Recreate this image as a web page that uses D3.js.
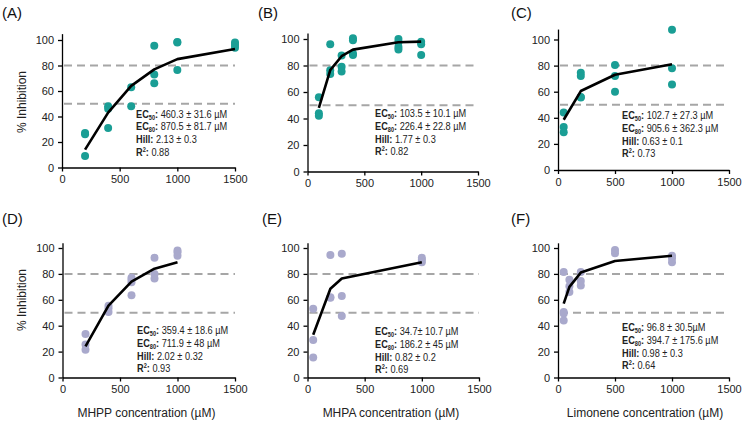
<!DOCTYPE html>
<html>
<head>
<meta charset="utf-8">
<script src="https://cdn.jsdelivr.net/npm/d3@7"></script>
<style>
  body { margin: 0; background: #fff; }
  svg { display: block; font-family: "Liberation Sans", Arial, sans-serif; }
  .tick text { font-size: 11px; fill: #222; }
  .stats { font-family: "Liberation Sans", Arial, sans-serif; font-size: 11.5px; fill: #222; }
</style>
</head>
<body>
<div id="chart"></div>
<script>
// panel labels and axis titles
const panelNames = ["(A)", "(B)", "(C)", "(D)", "(E)", "(F)"];
const xTitles = ["MHPP concentration (µM)", "MHPA concentration (µM)", "Limonene concentration (µM)"];
const xTicks = [0, 500, 1000, 1500];
const yTicks = [0, 20, 40, 60, 80, 100];
const guideLines = [50, 80];

// measured points (dose, % inhibition)
const aDose = [200, 200, 200, 400, 400, 400, 600, 600, 800, 800, 800, 1000, 1000, 1000, 1500, 1500, 1500];
const aInhib = [27, 26, 9, 48, 46, 31, 63, 48, 95.5, 73, 66, 98.5, 98, 76.5, 98, 96, 94];
const bDose = [100, 100, 100, 200, 200, 200, 300, 300, 300, 400, 400, 400, 400, 800, 800, 800, 800, 1000, 1000, 1000];
const bInhib = [56, 44, 42, 96, 76.5, 73.5, 87.5, 79, 75.5, 100.5, 99, 88, 89, 100, 97.5, 94, 92, 98, 96, 88];
const cDose = [50, 50, 50, 200, 200, 200, 200, 500, 500, 500, 1000, 1000, 1000];
const cInhib = [44, 33, 29, 74.5, 72, 56, 55.5, 80.5, 72, 60, 107.5, 78, 65.5];
const dDose = [200, 200, 200, 400, 400, 400, 600, 600, 600, 600, 800, 800, 800, 1000, 1000, 1000];
const dInhib = [33.5, 25.5, 21.5, 55.5, 53.5, 50.5, 77, 75.5, 73.5, 63.5, 92.5, 80, 76.5, 98, 96.5, 94];
const eDose = [50, 50, 50, 200, 200, 200, 300, 300, 300, 1000, 1000, 1000];
const eInhib = [53, 29, 15.5, 94.5, 62, 61.5, 95.5, 63, 47.5, 92.5, 91, 89];
const fDose = [50, 50, 50, 50, 100, 100, 100, 200, 200, 200, 500, 500, 1000, 1000, 1000];
const fInhib = [81.5, 50.5, 49.5, 44, 75.5, 70.5, 66, 81.5, 74.5, 71, 98.5, 96, 94, 92, 89];

// fitted curve values read at each tested dose
const aFitDose = [200, 400, 600, 800, 1000, 1500];
const aFit = [14, 43, 64, 77, 85, 93];
const bFitDose = [100, 200, 300, 400, 800, 1000];
const bFit = [48, 76.5, 87, 92, 97.5, 98];
const cFitDose = [50, 200, 500, 1000];
const cFit = [38.5, 60.5, 73, 81];
const dFitDose = [200, 400, 600, 800, 1000];
const dFit = [24, 55.5, 74, 84, 89];
const eFitDose = [50, 200, 300, 1000];
const eFit = [33, 68.5, 76.5, 89];
const fFitDose = [50, 100, 200, 500, 1000];
const fFit = [57, 70, 81, 90, 94];

// fit statistics
const ec50Text = ["460.3 ± 31.6 µM", "103.5 ± 10.1 µM", "102.7 ± 27.3 µM", "359.4 ± 18.6 µM", "34.7± 10.7 µM", "96.8 ± 30.5µM"];
const ec80Text = ["870.5 ± 81.7 µM", "226.4 ± 22.8 µM", "905.6 ± 362.3 µM", "711.9 ± 48 µM", "186.2 ± 45 µM", "394.7 ± 175.6 µM"];
const hillText = ["2.13 ± 0.3", "1.77 ± 0.3", "0.63 ± 0.1", "2.02 ± 0.32", "0.82 ± 0.2", "0.98 ± 0.3"];
const r2Text = ["0.88", "0.82", "0.73", "0.93", "0.69", "0.64"];

const tealColor = "#1a9e95";
const lilacColor = "#a9a9cc";

// pixel layout of each panel (plot box and annotation anchor)
const panels = [
  { x0: 62, x1: 235, y0: 167.5, y100: 40, yMax: 105, tx: 136, ty: 117.5, lx: 2, ly: 18, color: tealColor },
  { x0: 307.5, x1: 478, y0: 171.5, y100: 39, yMax: 104.5, tx: 375, ty: 117, lx: 258, ly: 18, color: tealColor },
  { x0: 558, x1: 729, y0: 170, y100: 39.5, yMax: 108, tx: 622, ty: 119, lx: 511, ly: 18, color: tealColor },
  { x0: 62.5, x1: 235, y0: 377.5, y100: 248, yMax: 104, tx: 137, ty: 334, lx: 2, ly: 224, color: lilacColor },
  { x0: 307.5, x1: 479, y0: 377.5, y100: 248, yMax: 104, tx: 375, ty: 335, lx: 262, ly: 224, color: lilacColor },
  { x0: 558, x1: 729, y0: 377.5, y100: 248, yMax: 104, tx: 622, ty: 331, lx: 511, ly: 224, color: lilacColor }
];
const pointSets = [[aDose, aInhib], [bDose, bInhib], [cDose, cInhib], [dDose, dInhib], [eDose, eInhib], [fDose, fInhib]];
const fitSets = [[aFitDose, aFit], [bFitDose, bFit], [cFitDose, cFit], [dFitDose, dFit], [eFitDose, eFit], [fFitDose, fFit]];

const svg = d3.select("#chart").append("svg")
  .attr("width", 742)
  .attr("height", 422);

panels.forEach((p, i) => {
  const g = svg.append("g");
  const yTop = p.y0 - (p.y0 - p.y100) * p.yMax / 100;

  const x = d3.scaleLinear().domain([0, 1500]).range([p.x0, p.x1]);
  const y = d3.scaleLinear().domain([0, p.yMax]).range([p.y0, yTop]);

  // 50% and 80% guide lines
  g.selectAll(".guide")
    .data(guideLines)
    .enter()
    .append("line")
    .attr("x1", x(0) + 2)
    .attr("x2", x(1500))
    .attr("y1", d => y(d))
    .attr("y2", d => y(d))
    .attr("stroke", "#a6a6a6")
    .attr("stroke-width", 2)
    .attr("stroke-dasharray", "8,5");

  // Axes
  const xAxis = g.append("g")
    .attr("transform", `translate(0,${p.y0})`)
    .call(d3.axisBottom(x).tickValues(xTicks).tickFormat(d3.format("d"))
      .tickSize(4).tickSizeOuter(0).tickPadding(4));
  const yAxis = g.append("g")
    .attr("transform", `translate(${p.x0},0)`)
    .call(d3.axisLeft(y).tickValues(yTicks).tickSize(4).tickSizeOuter(0).tickPadding(4));
  [xAxis, yAxis].forEach(ax => {
    ax.select(".domain").attr("stroke", "#000").attr("stroke-width", 1.3);
    ax.selectAll(".tick line").attr("stroke", "#000").attr("stroke-width", 1.3);
  });

  // Data points
  const [dose, inhib] = pointSets[i];
  g.selectAll(".pt")
    .data(dose.map((d, k) => [d, inhib[k]]))
    .enter()
    .append("circle")
    .attr("cx", d => x(d[0]))
    .attr("cy", d => y(d[1]))
    .attr("r", 4)
    .attr("fill", p.color);

  // Fitted curve
  const [fd, fv] = fitSets[i];
  g.append("path")
    .datum(fd.map((d, k) => [d, fv[k]]))
    .attr("fill", "none")
    .attr("stroke", "#000")
    .attr("stroke-width", 2.6)
    .attr("stroke-linejoin", "round")
    .attr("d", d3.line().x(d => x(d[0])).y(d => y(d[1])));

  // Panel label
  g.append("text")
    .attr("x", p.lx)
    .attr("y", p.ly)
    .attr("font-size", 15)
    .attr("fill", "#111")
    .text(panelNames[i]);

  // Stats block, squeezed horizontally like a narrow face
  const lineGap = 12.8;
  const stats = g.append("text")
    .attr("class", "stats")
    .attr("transform", `translate(${p.tx},${p.ty}) scale(0.8,1)`);
  const row = (k) => stats.append("tspan").attr("x", 0).attr("y", k * lineGap);

  const subRow = (k, sub, val) => {
    row(k).attr("font-weight", "bold").text("EC");
    stats.append("tspan").attr("font-size", 7).attr("font-weight", "bold").attr("dy", 2).text(sub);
    stats.append("tspan").attr("font-weight", "bold").attr("dy", -2).text(":");
    stats.append("tspan").text(" " + val);
  };
  subRow(0, "50", ec50Text[i]);
  subRow(1, "80", ec80Text[i]);
  row(2).attr("font-weight", "bold").text("Hill:");
  stats.append("tspan").text(" " + hillText[i]);
  row(3).attr("font-weight", "bold").text("R");
  stats.append("tspan").attr("font-size", 7).attr("font-weight", "bold").attr("dy", -4).text("2");
  stats.append("tspan").attr("font-weight", "bold").attr("dy", 4).text(":");
  stats.append("tspan").text(" " + r2Text[i]);
});

// y axis titles (left column only)
[[22, 102], [22, 300]].forEach(([cx, cy]) => {
  svg.append("text")
    .attr("transform", `translate(${cx},${cy}) rotate(-90)`)
    .attr("text-anchor", "middle")
    .attr("dy", "0.35em")
    .attr("font-size", 12)
    .attr("fill", "#222")
    .text("% Inhibition");
});

// x axis titles (bottom row)
[146.5, 391, 645].forEach((cx, i) => {
  svg.append("text")
    .attr("x", cx)
    .attr("y", 417)
    .attr("text-anchor", "middle")
    .attr("font-size", 12)
    .attr("fill", "#222")
    .text(xTitles[i]);
});
</script>
</body>
</html>
